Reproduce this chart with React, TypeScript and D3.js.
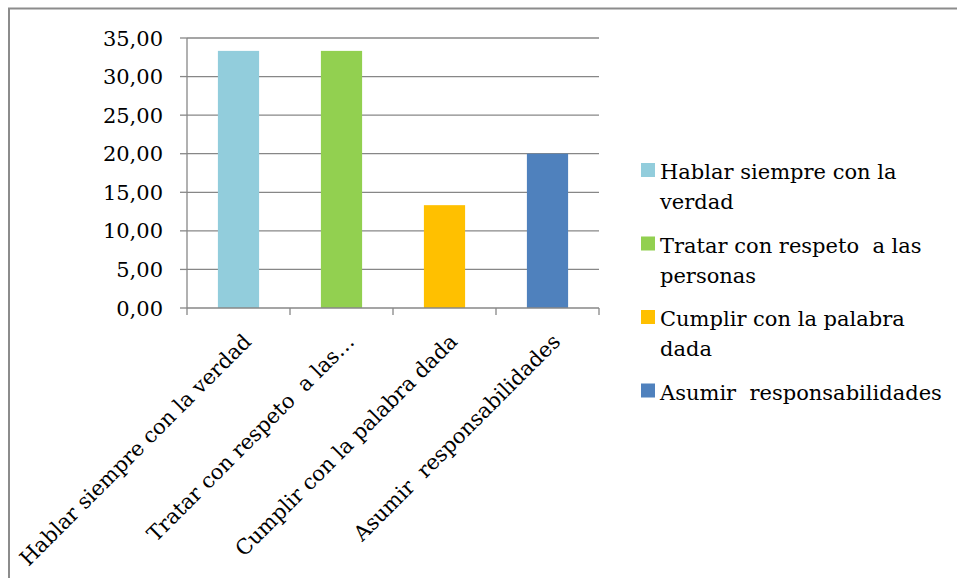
import * as d3 from "d3";
import React from "react";

const categories = [
  "Hablar siempre con la verdad",
  "Tratar con respeto  a las personas",
  "Cumplir con la palabra dada",
  "Asumir  responsabilidades",
];
const axisLabels = [
  "Hablar siempre con la verdad",
  "Tratar con respeto  a las…",
  "Cumplir con la palabra dada",
  "Asumir  responsabilidades",
];
const legendLines = [
  ["Hablar siempre con la", "verdad"],
  ["Tratar con respeto  a las", "personas"],
  ["Cumplir con la palabra", "dada"],
  ["Asumir  responsabilidades"],
];
const values = [33.33, 33.33, 13.33, 20.0];
const colors = ["#92CDDC", "#92D050", "#FFC000", "#4F81BD"];
const yTicks = [0, 5, 10, 15, 20, 25, 30, 35];

const W = 957;
const H = 578;
const font = '"DejaVu Serif", serif';
const fs = 21;
const grid = "#878787";

const App: React.FC = () => {
  const left = 187;
  const right = 599;
  const top = 38;
  const bottom = 308;

  const x = d3.scaleBand<string>().domain(categories).range([left, right]);
  const y = d3.scaleLinear().domain([0, 35]).range([bottom, top]);
  const bw = x.bandwidth();
  const fmt = (v: number) => d3.format(".2f")(v).replace(".", ",");

  // legend rows: each item starts after the previous one's lines
  let ly = 179;
  const legendPos = legendLines.map((lines) => {
    const pos = ly;
    ly += lines.length * 30 + 13.5;
    return pos;
  });

  const txt = { fontFamily: font, whiteSpace: "pre" as const };

  return (
    <svg
      width={W}
      height={H}
      style={{ position: "absolute", left: 0, top: 0, background: "#fff" }}
    >
      <rect x={9} y={8.5} width={W + 20} height={H + 20} fill="#fff" stroke="#8c8c8c" strokeWidth={2} />

      {yTicks.map((t) => (
        <g key={t}>
          {t > 0 && (
            <line x1={left} x2={right} y1={y(t)} y2={y(t)} stroke={grid} strokeWidth={1.3} />
          )}
          <line x1={left - 7} x2={left} y1={y(t)} y2={y(t)} stroke={grid} strokeWidth={1.3} />
          <text x={163} y={y(t)} dy="0.36em" textAnchor="end" fontSize={fs} fill="#000" style={txt}>
            {fmt(t)}
          </text>
        </g>
      ))}

      {categories.map((c, i) => (
        <rect
          key={c}
          x={x(c)! + bw * 0.3}
          y={y(values[i])}
          width={bw * 0.4}
          height={y(0) - y(values[i])}
          fill={colors[i]}
        />
      ))}

      <line x1={left} x2={left} y1={top} y2={bottom} stroke={grid} strokeWidth={1.3} />
      <line x1={left} x2={right} y1={bottom} y2={bottom} stroke={grid} strokeWidth={1.3} />
      {[...categories.map((c) => x(c)!), right].map((px, i) => (
        <line key={i} x1={px} x2={px} y1={bottom} y2={bottom + 7} stroke={grid} strokeWidth={1.3} />
      ))}

      {categories.map((c, i) => {
        // label ends just right of the category centre, below the axis
        const cx = x(c)! + bw / 2 + 14;
        const cy = 343;
        return (
          <text
            key={c}
            x={cx}
            y={cy}
            textAnchor="end"
            fontSize={fs}
            fill="#000"
            transform={`rotate(-45,${cx},${cy})`}
            style={txt}
          >
            {axisLabels[i]}
          </text>
        );
      })}

      {legendLines.map((lines, i) => (
        <g key={i}>
          <rect x={641} y={legendPos[i] - 16} width={14} height={14} fill={colors[i]} />
          {lines.map((ln, j) => (
            <text key={j} x={660} y={legendPos[i] + j * 30} fontSize={fs} fill="#000" style={txt}>
              {ln}
            </text>
          ))}
        </g>
      ))}
    </svg>
  );
};

export default App;
